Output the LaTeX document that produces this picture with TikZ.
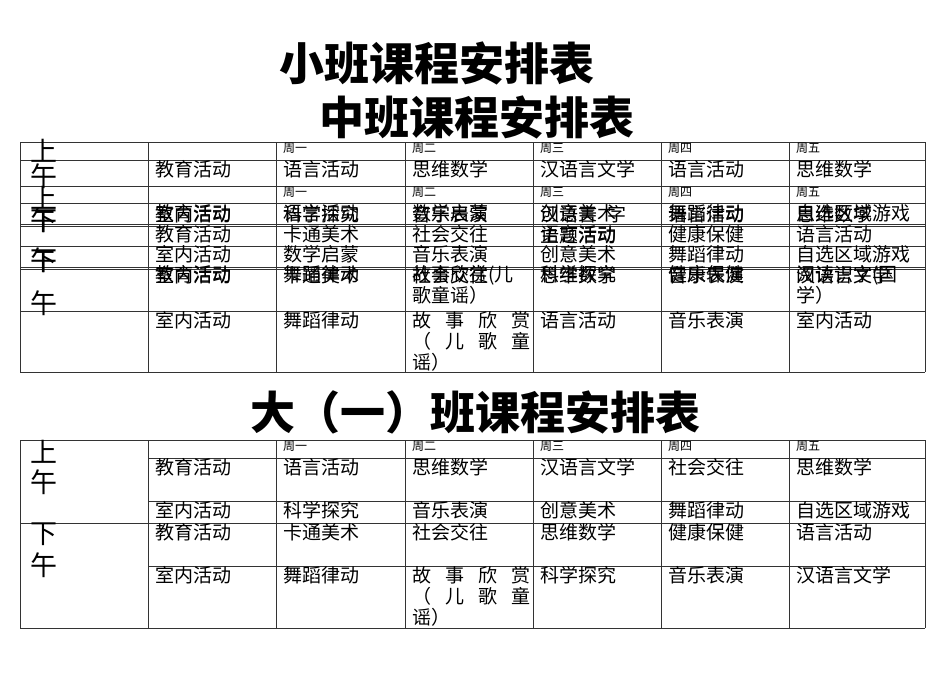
\documentclass[tikz,border=0pt]{standalone}
\usepackage{fontspec}
\setmainfont{Noto Sans CJK SC}
\begin{document}
\begin{tikzpicture}[x=1pt,y=-1pt,
  grid/.style={line width=0.8pt,draw=black!80},
  txt/.style={anchor=north west,inner sep=0pt,font=\fontsize{19}{21}\selectfont},
  hdr/.style={anchor=north west,inner sep=0pt,font=\fontsize{12}{13}\selectfont},
  big/.style={anchor=north west,inner sep=0pt,font=\fontsize{27}{28}\selectfont},
  ttl/.style={inner sep=0pt,font=\fontsize{45}{47}\selectfont\bfseries}]
\useasboundingbox (0,0) rectangle (950,672);
\fill[white] (0,0) rectangle (950,672);
\node[ttl] (t1) at (437,63) {小班课程安排表};
\node[ttl] (t2) at (477,117) {中班课程安排表};
\node[ttl] (t3) at (475,412) {大（一）班课程安排表};
% ---- top table grid
\foreach \y in {142,160,186,203,224,226,246,267,269,311,372}
  \draw[grid] (20,\y) -- (925,\y);
\draw[grid] (20,142) -- (20,372);
\draw[grid] (925,142) -- (925,372);
\foreach \x in {148,276,405,533,661,789} \draw[grid] (\x,142) -- (\x,372);
% left column
\node[big] (l1) at (30,139) {上};
\node[big] (l2) at (30,164) {午};
\node[big] (l3) at (30,186) {上};
\node[big] (l4) at (30,208) {午};
\node[big] (l4b) at (30,210) {下};
\node[big] (l5) at (30,248) {午};
\node[big] (l5b) at (30,250) {下};
\node[big] (l6) at (30,291) {午};
% headers
\foreach \x/\d in {283/一,412/二,540/三,668/四,796/五}{
  \node[hdr] at (\x,143) {周\d};
  \node[hdr] at (\x,187) {周\d};}
% row 1
\node[txt] (a0) at (155,160) {教育活动};
\node[txt] (a1) at (283,160) {语言活动};
\node[txt] (a2) at (412,160) {思维数学};
\node[txt] (a3) at (540,160) {汉语言文学};
\node[txt] (a4) at (668,160) {语言活动};
\node[txt] (a5) at (796,160) {思维数学};
% overlapped row
\foreach \x/\p/\q in {155/教育活动/室内活动,283/语言活动/科学探究,412/数学启蒙/音乐表演,540/创意美术/汉语言\hspace{10pt}字,668/舞蹈律动/语言活动,796/自选区域游戏/思维数学}{
  \node[txt] at (\x,204) {\p};
  \node[txt] at (\x,205) {\q};}
\node[txt] (b0) at (155,225) {教育活动};
\node[txt] (b1) at (283,225) {卡通美术};
\node[txt] (b2) at (412,225) {社会交往};
\node[txt] (b3) at (540,225) {语言活动};
\node[txt] (b3b) at (540,226) {主题活动};
\node[txt] (b4) at (668,225) {健康保健};
\node[txt] (b5) at (796,225) {语言活动};
\node[txt] (c0) at (155,245) {室内活动};
\node[txt] (c1) at (283,245) {数学启蒙};
\node[txt] (c2) at (412,245) {音乐表演};
\node[txt] (c3) at (540,245) {创意美术};
\node[txt] (c4) at (668,245) {舞蹈律动};
\node[txt] (c5) at (796,245) {自选区域游戏};
\foreach \x/\p/\q in {155/教育活动/室内活动,283/舞蹈律动/卡通美术,540/科学探究/思维数学,668/健康保健/音乐表演}{
  \node[txt] at (\x,265) {\p};
  \node[txt] at (\x,266) {\q};}
\node[txt,text width=122pt] (d2) at (412,265) {故事欣赏(儿\\歌童谣）};
\node[txt] (d2b) at (412,266) {社会交往};
\node[txt,text width=124pt] (d5) at (796,265) {阅读识字(国\\学）};
\node[txt] (d5b) at (796,266) {汉语言文学};
\node[txt] (e0) at (155,311) {室内活动};
\node[txt] (e1) at (283,311) {舞蹈律动};
\node[txt,text width=118pt] (e2) at (412,311) {故\hfill 事\hfill 欣\hfill 赏\\（\hfill 儿\hfill 歌\hfill 童\\谣）};
\node[txt] (e3) at (540,311) {语言活动};
\node[txt] (e4) at (668,311) {音乐表演};
\node[txt] (e5) at (796,311) {室内活动};
% ---- bottom table
\foreach \y in {440,458,501,523,566,628}
  \draw[grid] (148,\y) -- (925,\y);
\foreach \y in {440,523,628} \draw[grid] (20,\y) -- (148,\y);
\draw[grid] (20,440) -- (20,628);
\draw[grid] (925,440) -- (925,628);
\foreach \x in {148,276,405,533,661,789} \draw[grid] (\x,440) -- (\x,628);
\node[big] (m1) at (30,440) {上};
\node[big] (m2) at (30,470) {午};
\node[big] (m3) at (30,523) {下};
\node[big] (m4) at (30,553) {午};
\foreach \x/\d in {283/一,412/二,540/三,668/四,796/五}
  \node[hdr] at (\x,441) {周\d};
\foreach \x/\t in {155/教育活动,283/语言活动,412/思维数学,540/汉语言文学,668/社会交往,796/思维数学}
  \node[txt] at (\x,458) {\t};
\foreach \x/\t in {155/室内活动,283/科学探究,412/音乐表演,540/创意美术,668/舞蹈律动,796/自选区域游戏}
  \node[txt] at (\x,501) {\t};
\foreach \x/\t in {155/教育活动,283/卡通美术,412/社会交往,540/思维数学,668/健康保健,796/语言活动}
  \node[txt] at (\x,523) {\t};
\foreach \x/\t in {155/室内活动,283/舞蹈律动,540/科学探究,668/音乐表演,796/汉语言文学}
  \node[txt] at (\x,566) {\t};
\node[txt,text width=118pt] (f2) at (412,566) {故\hfill 事\hfill 欣\hfill 赏\\（\hfill 儿\hfill 歌\hfill 童\\谣）};
\end{tikzpicture}
\end{document}
